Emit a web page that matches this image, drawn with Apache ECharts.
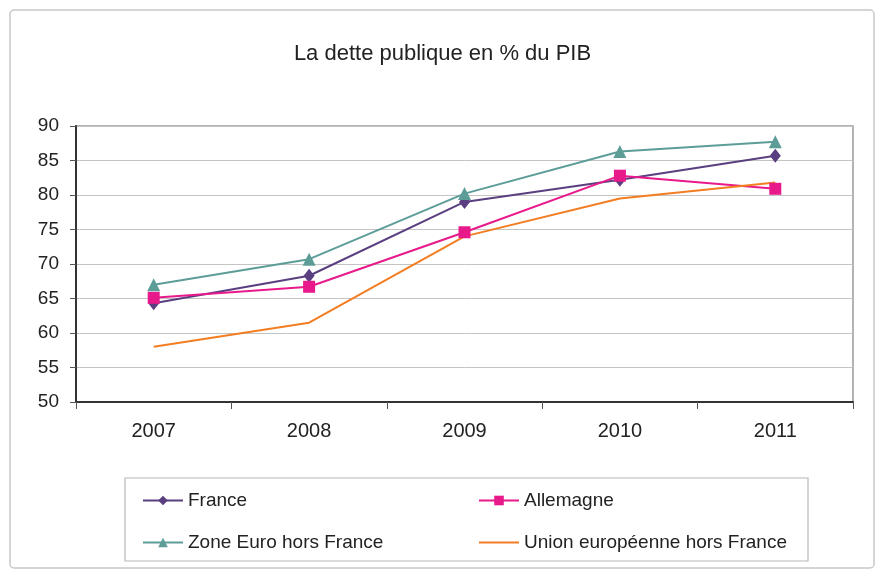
<!DOCTYPE html>
<html><head><meta charset="utf-8">
<script src="https://cdn.jsdelivr.net/npm/echarts@6/dist/echarts.min.js"></script>
<style>html,body{margin:0;padding:0;background:#fff}#c{width:885px;height:574px}</style>
</head><body><div id="c"></div>
<script>
var years = ['2007','2008','2009','2010','2011'];
var france = [64.3, 68.3, 79.0, 82.2, 85.7];
var allemagne = [65.1, 66.7, 74.6, 82.8, 80.9];
var zoneEuro = [67.0, 70.7, 80.2, 86.3, 87.7];
var ueHorsFrance = [58.0, 61.5, 74.0, 79.5, 81.8];
var yTicks = [50,55,60,65,70,75,80,85,90];

var FONT = '"Liberation Sans",Arial,sans-serif';
var chart = echarts.init(document.getElementById('c'));
chart.setOption({
  backgroundColor:'#fff',
  animation:false,
  title:{text:'La dette publique en % du PIB',left:'center',top:38,
    textStyle:{fontFamily:FONT,fontSize:22,fontWeight:'normal',color:'#222'}},
  graphic:[
    {type:'rect',shape:{x:10,y:10,width:864,height:558,r:4},style:{fill:'none',stroke:'#c8c8c8',lineWidth:1.5},z:-1},
    {type:'rect',shape:{x:125,y:478,width:683,height:83},style:{fill:'none',stroke:'#b8b8b8',lineWidth:1.2},z:-1}
  ],
  grid:{left:76,right:32,top:126,bottom:172,show:true,borderColor:'#9a9a9a',borderWidth:1.5},
  xAxis:{type:'category',data:years,boundaryGap:true,
    axisLine:{lineStyle:{color:'#333',width:2}},
    axisTick:{show:true,length:7,lineStyle:{color:'#555'}},
    axisLabel:{fontFamily:FONT,fontSize:20,color:'#222',margin:19}},
  yAxis:{type:'value',min:50,max:90,interval:5,
    axisLine:{show:true,lineStyle:{color:'#333',width:2}},
    axisTick:{show:true,length:6,lineStyle:{color:'#555'}},
    axisLabel:{fontFamily:FONT,fontSize:19,color:'#222',margin:17,
      formatter:function(v){return yTicks.indexOf(v)>=0?String(v):'';}},
    splitLine:{lineStyle:{color:'#c4c4c4',width:1}}},
  legend:[
    {orient:'vertical',left:137,top:486,itemGap:23,itemWidth:40,itemHeight:12,
     data:['France','Zone Euro hors France'],
     textStyle:{fontFamily:FONT,fontSize:19,color:'#222'}},
    {orient:'vertical',left:473,top:486,itemGap:23,itemWidth:40,itemHeight:12,
     data:['Allemagne',{name:'Union européenne hors France',itemStyle:{opacity:0}}],
     textStyle:{fontFamily:FONT,fontSize:19,color:'#222'}}
  ],
  series:[
    {name:'France',type:'line',data:france,symbol:'diamond',symbolSize:[11,14],
      lineStyle:{color:'#5a3f80',width:2},itemStyle:{color:'#5a3f80'}},
    {name:'Allemagne',type:'line',data:allemagne,symbol:'rect',symbolSize:12,
      lineStyle:{color:'#e8198b',width:2},itemStyle:{color:'#e8198b'}},
    {name:'Zone Euro hors France',type:'line',data:zoneEuro,symbol:'triangle',symbolSize:13,
      lineStyle:{color:'#5c9d98',width:2},itemStyle:{color:'#5c9d98'}},
    {name:'Union européenne hors France',type:'line',data:ueHorsFrance,symbol:'none',
      lineStyle:{color:'#f27d22',width:2},itemStyle:{color:'#f27d22'}}
  ]
});
</script></body></html>
